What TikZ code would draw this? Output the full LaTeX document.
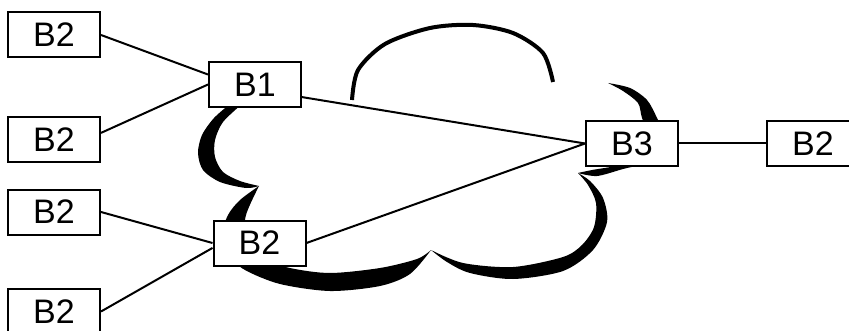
\documentclass[tikz,border=0pt]{standalone}
\usepackage{fontspec}
\setmainfont{Liberation Sans}
\usepackage{tikz}
\tikzstyle{box} = [rectangle, draw, fill=white, line width=1pt, inner sep=0pt, minimum width=46pt, minimum height=22.5pt, font=\fontsize{17}{17}\selectfont]
\tikzstyle{wire} = [draw, line width=1pt]
\tikzstyle{rim} = [fill=black]

\begin{document}
\begin{tikzpicture}[x=0.5pt,y=-0.5pt]
  \useasboundingbox (0,0) rectangle (849,331);

  \fill[rim] plot[smooth] coordinates {(230,104) (214,118) (202,135) (198,153) (203,170) (220,182) (246,188) (259,186)}
    -- plot[smooth] coordinates {(259,186) (240,181) (223,172) (215,157) (215,140) (223,122) (242,104)} -- cycle;
  \fill[rim] plot[smooth] coordinates {(259,186) (240,200) (228,215) (222,235) (228,255) (245,270) (280,284) (330,291) (380,286) (410,274) (431,250)}
    -- plot[smooth] coordinates {(431,250) (417,259) (380,268) (330,273) (290,268) (260,258) (245,240) (246,215) (259,186)} -- cycle;
  \fill[rim] plot[smooth] coordinates {(431,250) (447,262) (470,273) (513,279) (563,271) (593,250) (607,222) (603,198) (590,181) (578,173)}
    -- plot[smooth] coordinates {(578,173) (588,185) (596,203) (594,227) (582,245) (563,257) (513,267) (463,263) (431,250)} -- cycle;
  \fill[rim] plot[smooth] coordinates {(608,83) (630,88) (647,100) (657,118) (666,140) (655,160) (623,169) (597,176) (578,173)}
    -- plot[smooth] coordinates {(578,173) (592,170) (620,165) (645,155) (650,138) (642,118) (638,103) (623,91) (608,83)} -- cycle;
  \draw[line width=2pt] plot[smooth] coordinates {(352,100) (358,70) (385,44) (430,28) (473,25) (513,33) (543,53) (553,82)};

  \node[box] (B2_a) at (54,35) {B2};
  \node[box] (B2_b) at (54,139.5) {B2};
  \node[box] (B2_c) at (54,212) {B2};
  \node[box] (B2_d) at (54,311.5) {B2};
  \node[box] (B1) at (255,84.5) {B1};
  \node[box] (B2_m) at (259.5,243) {B2};
  \node[box] (B3) at (632,143.5) {B3};
  \node[box] (B2_r) at (813,143.5) {B2};

  \path[wire] (B2_a.east) -- (B1.168);
  \path[wire] (B2_b.8) -- (B1.west);
  \path[wire] (B2_c.east) -- (B2_m.west);
  \path[wire] (B2_d.east) -- (B2_m.186);
  \path[wire] (B1.-15) -- (B3.west);
  \path[wire] (B2_m.east) -- (B3.west);
  \path[wire] (B3.east) -- (B2_r.west);
\end{tikzpicture}
\end{document}
